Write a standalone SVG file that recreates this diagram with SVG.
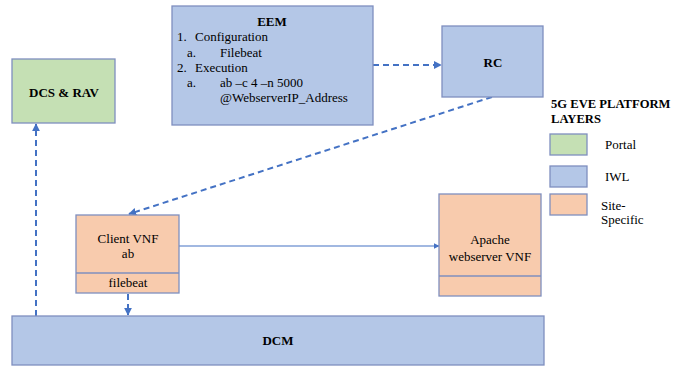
<svg xmlns="http://www.w3.org/2000/svg" width="686" height="368" viewBox="0 0 686 368">
<style>
text{font-family:"Liberation Serif","DejaVu Serif",serif;font-size:13px;fill:#000}
.b{font-weight:bold}
.m{text-anchor:middle}
.lt{font-size:12.6px}
.iwl{fill:#B4C7E7;stroke:#7F8FBF;stroke-width:1.3}
.portal{fill:#C5E0B4;stroke:#7F8FBF;stroke-width:1.3}
.site{fill:#F8CBAD;stroke:#7F8FBF;stroke-width:1.3}
.dash{stroke:#4472C4;stroke-width:2;stroke-dasharray:6,4;fill:none}
.solid{stroke:#4472C4;stroke-width:1.2;fill:none}
</style>
<defs>
<marker id="ah" viewBox="0 0 10 10" refX="9" refY="5" markerWidth="4" markerHeight="4" orient="auto" markerUnits="strokeWidth">
<path d="M0,0L10,5L0,10z" fill="#4472C4"/>
</marker>
<marker id="ahs" viewBox="0 0 10 10" refX="9" refY="5" markerWidth="5" markerHeight="5" orient="auto" markerUnits="strokeWidth">
<path d="M0,0L10,5L0,10z" fill="#4472C4"/>
</marker>
</defs>
<g id="connectors">
<line class="dash" x1="373" y1="65" x2="441" y2="65" marker-end="url(#ah)"/>
<line class="dash" x1="492" y1="97" x2="129" y2="214" marker-end="url(#ah)"/>
<line class="solid" x1="179" y1="246" x2="439" y2="246" marker-end="url(#ahs)"/>
<line class="dash" x1="128" y1="294" x2="128" y2="315" marker-end="url(#ah)"/>
<line class="dash" x1="36" y1="316" x2="36" y2="124" marker-end="url(#ah)"/>
</g>
<g id="eem">
<rect class="iwl" x="172" y="6" width="201" height="119"/>
<text class="b m" x="272" y="26">EEM</text>
<text x="177" y="41">1.</text><text x="195" y="41">Configuration</text>
<text x="187" y="57">a.</text><text x="220" y="57">Filebeat</text>
<text x="177" y="72">2.</text><text x="195" y="72">Execution</text>
<text x="187" y="87">a.</text><text x="220" y="87">ab –c 4 –n 5000</text>
<text x="220" y="102">@WebserverIP_Address</text>
</g>
<g id="rc">
<rect class="iwl" x="442" y="26" width="101" height="71"/>
<text class="b m" x="493" y="67">RC</text>
</g>
<g id="dcs">
<rect class="portal" x="12" y="59" width="103" height="64"/>
<text class="b m" x="64" y="97">DCS &amp; RAV</text>
</g>
<g id="client">
<rect class="site" x="76" y="215" width="103" height="78"/>
<line x1="76" y1="273" x2="179" y2="273" stroke="#7F8FBF" stroke-width="1.3"/>
<text class="m" x="128" y="243">Client VNF</text>
<text class="m" x="128" y="258">ab</text>
<text class="m" x="128" y="287">filebeat</text>
</g>
<g id="apache">
<rect class="site" x="439" y="194" width="102" height="102"/>
<line x1="439" y1="276" x2="541" y2="276" stroke="#7F8FBF" stroke-width="1.3"/>
<text class="m" x="490" y="244">Apache</text>
<text class="m" x="490" y="261">webserver VNF</text>
</g>
<g id="dcm">
<rect class="iwl" x="12" y="316" width="532" height="49"/>
<text class="b m" x="278" y="345">DCM</text>
</g>
<g id="legend">
<text class="b lt" x="551" y="108">5G EVE PLATFORM</text>
<text class="b lt" x="551" y="123">LAYERS</text>
<rect class="portal" x="550" y="134" width="37" height="21"/>
<text x="605" y="149">Portal</text>
<rect class="iwl" x="550" y="166" width="37" height="21"/>
<text x="605" y="181">IWL</text>
<rect class="site" x="550" y="194" width="37" height="21"/>
<text x="601" y="210">Site-</text>
<text x="601" y="224">Specific</text>
</g>
</svg>
